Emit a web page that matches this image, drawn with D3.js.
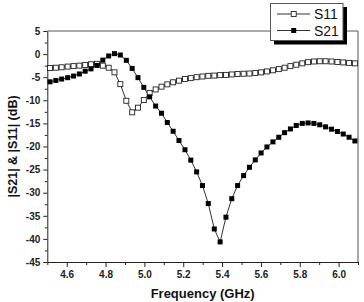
<!DOCTYPE html>
<html>
<head>
<meta charset="utf-8">
<script src="https://cdn.jsdelivr.net/npm/d3@7"></script>
<style>
body { margin: 0; background: #fff; }
svg { display: block; font-family: "Liberation Sans", Arial, sans-serif; }
.axis text { font-weight: bold; font-size: 10px; fill: #222; }
.axis path, .axis line { stroke: #222; }
</style>
</head>
<body>
<svg width="364" height="302"></svg>
<script>
// frequency points (GHz)
var freq = [4.514, 4.544, 4.574, 4.605, 4.635, 4.665, 4.695, 4.725, 4.756, 4.786,
            4.816, 4.846, 4.876, 4.907, 4.937, 4.967, 4.997, 5.027, 5.058, 5.088,
            5.118, 5.148, 5.178, 5.209, 5.239, 5.269, 5.299, 5.329, 5.360, 5.390,
            5.420, 5.450, 5.480, 5.511, 5.541, 5.571, 5.601, 5.631, 5.662, 5.692,
            5.722, 5.752, 5.782, 5.813, 5.843, 5.873, 5.903, 5.933, 5.964, 5.994,
            6.024, 6.054, 6.084];

var s11 = [-3.0, -2.95, -2.85, -2.7, -2.6, -2.5, -2.35, -2.2, -2.1, -2.5,
           -2.95, -3.95, -6.5, -10.1, -12.6, -11.6, -9.95, -8.4, -7.65, -7.05,
           -6.55, -6.1, -5.75, -5.4, -5.2, -5.0, -4.85, -4.7, -4.65, -4.55,
           -4.5, -4.4, -4.3, -4.25, -4.2, -4.1, -3.95, -3.75, -3.5, -3.25,
           -2.95, -2.6, -2.3, -2.0, -1.75, -1.6, -1.55, -1.55, -1.6, -1.7,
           -1.8, -1.9, -2.0];

var s21 = [-6.0, -5.7, -5.4, -5.1, -4.75, -4.3, -3.7, -3.2, -2.45, -1.3,
           -0.4, 0.1, -0.2, -1.35, -3.1, -5.1, -7.2, -9.25, -11.25, -12.8,
           -14.8, -16.7, -18.7, -20.7, -22.95, -25.5, -28.45, -32.35, -37.85, -40.65,
           -35.3, -31.3, -28.45, -26.3, -24.5, -22.9, -21.4, -20.1, -19.0, -18.0,
           -17.0, -16.2, -15.45, -15.0, -14.9, -15.0, -15.3, -15.75, -16.25, -16.75,
           -17.3, -18.0, -18.8];

var xTicks = [4.6, 4.8, 5.0, 5.2, 5.4, 5.6, 5.8, 6.0];
var xMinor = [4.5, 4.7, 4.9, 5.1, 5.3, 5.5, 5.7, 5.9, 6.1];
var yTicks = [5, 0, -5, -10, -15, -20, -25, -30, -35, -40, -45];
var yMinor = [2.5, -2.5, -7.5, -12.5, -17.5, -22.5, -27.5, -32.5, -37.5, -42.5];

var seriesNames = ["S11", "S21"];

var svg = d3.select("svg");
var plotL = 47.3, plotR = 358, plotT = 31, plotB = 262;

var x = d3.scaleLinear().domain([4.5, 6.1]).range([plotL, plotR]);
var y = d3.scaleLinear().domain([-45, 5]).range([plotB, plotT]);

// frame (top and right)
svg.append("path")
  .attr("d", "M" + plotL + "," + plotT + "H" + plotR + "V" + plotB)
  .attr("fill", "none")
  .attr("stroke", "#555")
  .attr("stroke-width", 1);

// minor ticks
svg.append("g")
  .attr("class", "axis")
  .attr("transform", "translate(0," + plotB + ")")
  .call(d3.axisBottom(x).tickValues(xMinor).tickSize(3).tickFormat(""))
  .call(function(g) { g.select(".domain").remove(); });

svg.append("g")
  .attr("class", "axis")
  .attr("transform", "translate(" + plotL + ",0)")
  .call(d3.axisLeft(y).tickValues(yMinor).tickSize(2.5).tickFormat(""))
  .call(function(g) { g.select(".domain").remove(); });

// major axes
svg.append("g")
  .attr("class", "axis")
  .attr("transform", "translate(0," + plotB + ")")
  .call(d3.axisBottom(x).tickValues(xTicks).tickSize(5).tickSizeOuter(0).tickPadding(4)
    .tickFormat(d3.format(".1f")));

svg.append("g")
  .attr("class", "axis")
  .attr("transform", "translate(" + plotL + ",0)")
  .call(d3.axisLeft(y).tickValues(yTicks).tickSize(4).tickSizeOuter(0).tickPadding(3)
    .tickFormat(function(d) { return String(d); }));

// curves
var line = d3.line()
  .x(function(d) { return x(d[0]); })
  .y(function(d) { return y(d[1]); });

var d11 = freq.map(function(f, i) { return [f, s11[i]]; });
var d21 = freq.map(function(f, i) { return [f, s21[i]]; });

svg.append("path").datum(d11)
  .attr("d", line).attr("fill", "none").attr("stroke", "#333").attr("stroke-width", 1);
svg.append("path").datum(d21)
  .attr("d", line).attr("fill", "none").attr("stroke", "#333").attr("stroke-width", 1);

var ms = 5;
svg.selectAll(".m11").data(d11).enter().append("rect")
  .attr("class", "m11")
  .attr("x", function(d) { return x(d[0]) - ms / 2; })
  .attr("y", function(d) { return y(d[1]) - ms / 2; })
  .attr("width", ms).attr("height", ms)
  .attr("fill", "#fff").attr("stroke", "#222").attr("stroke-width", 0.9);

svg.selectAll(".m21").data(d21).enter().append("rect")
  .attr("class", "m21")
  .attr("x", function(d) { return x(d[0]) - ms / 2; })
  .attr("y", function(d) { return y(d[1]) - ms / 2; })
  .attr("width", ms).attr("height", ms)
  .attr("fill", "#000");

// axis titles
svg.append("text")
  .attr("x", (plotL + plotR) / 2)
  .attr("y", 298)
  .attr("text-anchor", "middle")
  .attr("font-weight", "bold")
  .attr("font-size", 13)
  .attr("fill", "#111")
  .text("Frequency (GHz)");

svg.append("text")
  .attr("transform", "translate(17," + (plotT + plotB) / 2 + ") rotate(-90)")
  .attr("text-anchor", "middle")
  .attr("font-weight", "bold")
  .attr("font-size", 12.5)
  .attr("fill", "#111")
  .text("|S21| & |S11| (dB)");

// legend
var lg = svg.append("g");
lg.append("rect").attr("x", 274).attr("y", 7).attr("width", 73).attr("height", 37.5).attr("fill", "#000");
lg.append("rect").attr("x", 270.5).attr("y", 3.5).attr("width", 72.5).attr("height", 37)
  .attr("fill", "#fff").attr("stroke", "#555").attr("stroke-width", 1);

seriesNames.forEach(function(name, i) {
  var yy = 14 + i * 16.5;
  lg.append("line").attr("x1", 277).attr("x2", 310).attr("y1", yy).attr("y2", yy)
    .attr("stroke", "#333").attr("stroke-width", 1);
  lg.append("rect").attr("x", 293.7 - ms / 2).attr("y", yy - ms / 2).attr("width", ms).attr("height", ms)
    .attr("fill", i === 0 ? "#fff" : "#000").attr("stroke", "#222").attr("stroke-width", i === 0 ? 0.9 : 0);
  lg.append("text").attr("x", 314).attr("y", yy + 5)
    .attr("font-size", 14).attr("fill", "#111").text(name);
});
</script>
</body>
</html>
